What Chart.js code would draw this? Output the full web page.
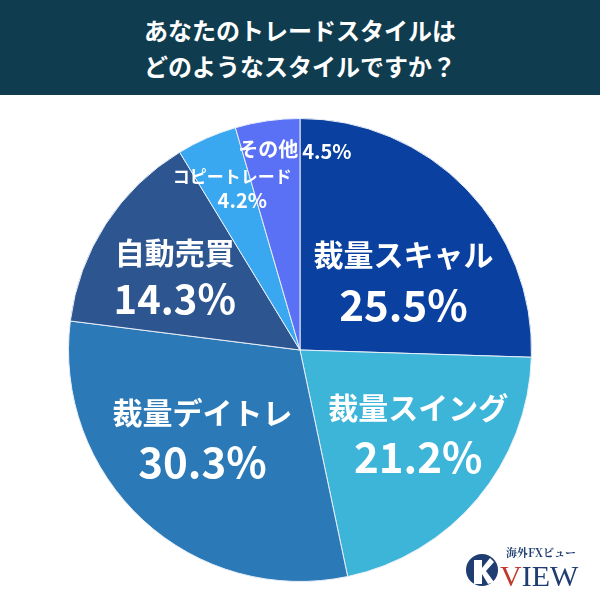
<!DOCTYPE html><html><head><meta charset="utf-8">
<script src="https://cdn.jsdelivr.net/npm/chart.js@4/dist/chart.umd.min.js"></script>
<style>
body{margin:0;width:600px;height:600px;background:#fff;font-family:"Noto Sans CJK JP",sans-serif;position:relative;overflow:hidden}
#title{position:absolute;left:0;top:0;width:600px;height:95px;background:#0f3d4f;color:#fff;font-weight:bold;font-size:24px;line-height:36px;text-align:center;padding-top:12px;box-sizing:border-box}
#wrap{position:absolute;left:60px;top:110px;width:480px;height:480px}
#logo{position:absolute;left:462px;top:540px;width:140px;height:50px}
</style></head><body>
<div id="title">あなたのトレードスタイルは<br>どのようなスタイルですか？</div>
<div id="wrap"><canvas id="c"></canvas></div>
<svg id="logo" viewBox="0 0 140 50">
<circle cx="20" cy="30" r="16" fill="#1f3d70"/>
<path d="M12 20 L20 20 L20 28 L28 18 L32 22 L24 31 L32 42 L26 44 L20 34 L20 44 L12 44Z" fill="#fff"/>
<text x="44" y="17" font-family="Noto Serif CJK JP,serif" font-weight="bold" font-size="11" fill="#1f3d70">海外FXビュー</text>
<text x="38" y="46" font-family="Liberation Serif,serif" font-size="30" fill="#1f3d70"><tspan fill="#c0392b">V</tspan>IEW</text>
</svg>
<script>
const categories=["裁量スキャル","裁量スイング","裁量デイトレ","自動売買","コピートレード","その他"];
const values=[25.5,21.2,30.3,14.3,4.2,4.5];
const colors=["#0a40a0","#3db5d8","#2b7ab7","#2d5590","#3aa8f0","#5a70f5"];
// label placement: [radius fraction, angle shift (deg), name size, pct size, line gap, inline, dx, dy]
const labelCfg=[[0.54,10,30,42,50,0,0,0],[0.56,-5,30,42,50,0,12,8],[0.55,4,30,42,50,0,-5,0],[0.55,-10,30,40,46,0,-8,-25],[0.72,-8,17,20,24,0,20,-20],[0.86,-4,20,20,0,1,36,-6]];
const labels={id:'lbl',afterDatasetsDraw(ch){const ctx=ch.ctx;const meta=ch.getDatasetMeta(0);
meta.data.forEach((a,i)=>{const c=labelCfg[i];const mid=(a.startAngle+a.endAngle)/2+c[1]*Math.PI/180;
const r=a.outerRadius*c[0];let x=a.x+Math.cos(mid)*r+c[6],y=a.y+Math.sin(mid)*r+c[7];
ctx.save();ctx.fillStyle="#fff";ctx.textBaseline="middle";ctx.font=`bold ${c[2]}px "Noto Sans CJK JP"`;
if(c[5]){ctx.textAlign="right";ctx.fillText(categories[i],x+4,y);ctx.textAlign="left";ctx.font=`bold ${c[3]}px "Noto Sans CJK JP"`;ctx.fillText(values[i]+"%",x+8,y+2);}
else{ctx.textAlign="center";ctx.fillText(categories[i],x,y-c[4]/2);ctx.font=`bold ${c[3]}px "Noto Sans CJK JP"`;ctx.fillText(values[i].toFixed(1)+"%",x+(i==4?10:0),y+c[4]/2);}
ctx.restore();});}};
new Chart(document.getElementById('c'),{type:'pie',data:{labels:categories,datasets:[{data:values,backgroundColor:colors,borderColor:"#e8eef8",borderWidth:1}]},
options:{responsive:true,maintainAspectRatio:false,animation:false,layout:{padding:8},plugins:{legend:{display:false},tooltip:{enabled:false}}},plugins:[labels]});
</script></body></html>
